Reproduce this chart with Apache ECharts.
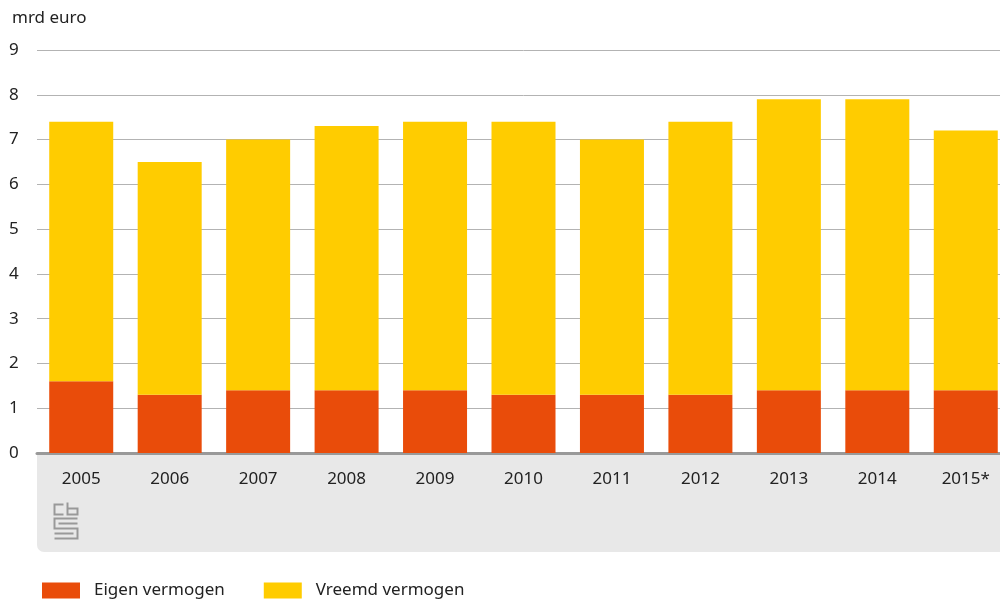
<!DOCTYPE html>
<html><head><meta charset="utf-8">
<script src="https://cdn.jsdelivr.net/npm/echarts@6/dist/echarts.min.js"></script>
<style>html,body{margin:0;padding:0;background:#fff;overflow:hidden}#c{width:1012px;height:601px}</style>
</head><body><div id="c"></div>
<script>
const categories = ['2005','2006','2007','2008','2009','2010','2011','2012','2013','2014','2015*'];
const eigen = [1.6,1.3,1.4,1.4,1.4,1.3,1.3,1.3,1.4,1.4,1.4];
const vreemd = [5.8,5.2,5.6,5.9,6.0,6.1,5.7,6.1,6.5,6.5,5.8];
const yTicks = [0,1,2,3,4,5,6,7,8,9];
const FONT = 'Noto Sans';
const chart = echarts.init(document.getElementById('c'));
chart.setOption({
  animation:false,
  textStyle:{fontFamily:FONT},
  graphic:[
    {type:'rect',z:-1,shape:{x:37,y:454,width:975,height:98,r:[0,0,0,7]},style:{fill:'#e8e8e8'}},
    {type:'text',left:12,top:10,style:{text:'mrd euro',font:'17px '+FONT,fill:'#222'}},
    {type:'group',left:52,top:500,children:[
      {type:'polyline',shape:{points:[[10,2],[1,2],[1,12],[10,12]]},style:{stroke:'#999',lineWidth:2,fill:null}},
      {type:'polyline',shape:{points:[[14,0],[14,12],[24,12],[24,6],[14,6]]},style:{stroke:'#999',lineWidth:2,fill:null}},
      {type:'polyline',shape:{points:[[24,16],[1,16],[1,26],[24,26],[24,36],[1,36]]},style:{stroke:'#999',lineWidth:2,fill:null}},
      {type:'polyline',shape:{points:[[24,21],[5,21]]},style:{stroke:'#999',lineWidth:2,fill:null}},
      {type:'polyline',shape:{points:[[1,31],[20,31]]},style:{stroke:'#999',lineWidth:2,fill:null}}
    ]}
  ],
  legend:{left:42,bottom:2,padding:0,itemWidth:38,itemHeight:16,itemGap:39,icon:'rect',
    textStyle:{fontSize:17,color:'#222',fontFamily:FONT,padding:[0,0,0,9]},
    data:['Eigen vermogen','Vreemd vermogen']},
  grid:{left:37,right:2,top:50,bottom:148},
  xAxis:{type:'category',data:categories,
    axisLine:{show:true,lineStyle:{color:'#999',width:3}},
    axisTick:{show:false},
    axisLabel:{color:'#222',fontSize:17,margin:18}},
  yAxis:{type:'value',min:0,max:9,interval:1,
    axisLabel:{color:'#222',fontSize:17,align:'left',margin:28,
      formatter:v=>yTicks.includes(v)?String(v):''},
    axisLine:{show:false},axisTick:{show:false},
    splitLine:{lineStyle:{color:'#b3b3b3',width:1}}},
  series:[
    {name:'Eigen vermogen',type:'bar',stack:'t',data:eigen,barWidth:64,itemStyle:{color:'#e94c0a'}},
    {name:'Vreemd vermogen',type:'bar',stack:'t',data:vreemd,barWidth:64,itemStyle:{color:'#ffcc00'}}
  ]
});
</script></body></html>
